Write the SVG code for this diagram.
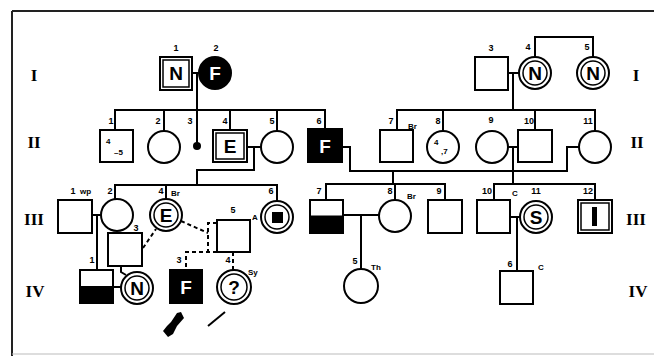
<svg xmlns="http://www.w3.org/2000/svg" width="654" height="356" viewBox="0 0 654 356">
<style>
.ln{fill:none;stroke:#000;stroke-width:2}
.ds{fill:none;stroke:#000;stroke-width:2;stroke-dasharray:4 3}
.nd{fill:#fff;stroke:#000;stroke-width:2}
.in{fill:none;stroke:#000;stroke-width:1.5}
.blk{fill:#000;stroke:#000;stroke-width:2}
.lb{font-family:"Liberation Sans",sans-serif;font-size:9px;font-weight:bold;text-anchor:middle}
.sm{font-family:"Liberation Sans",sans-serif;font-size:8px;font-weight:bold}
.big{font-family:"Liberation Sans",sans-serif;font-size:19px;font-weight:bold;text-anchor:middle}
.wt{fill:#fff}
.gen{font-family:"Liberation Serif",serif;font-size:17px;font-weight:bold;text-anchor:middle}
</style>
<rect width="654" height="356" fill="#fff"/>
<g id="frame">
<path d="M12,11 H654 M12,11 V356" fill="none" stroke="#222" stroke-width="2"/>
<path d="M12,354 H654" fill="none" stroke="#bbb" stroke-width="1"/>
</g>
<g id="generations">
<text class="gen" x="34" y="81">I</text>
<text class="gen" x="34" y="148">II</text>
<text class="gen" x="34" y="225">III</text>
<text class="gen" x="35" y="297">IV</text>
<text class="gen" x="636" y="81">I</text>
<text class="gen" x="637" y="148">II</text>
<text class="gen" x="636" y="225">III</text>
<text class="gen" x="638" y="297">IV</text>
</g>
<g id="connectors">
<path class="ln" d="M192,73 H200 M197,73 V146"/>
<path class="ln" d="M115,130 V110 H325 V129 M164,110 V131 M230,110 V130 M277,110 V131"/>
<path class="ln" d="M247,147 H261 M254,147 V170 H197 V185"/>
<path class="ln" d="M115,199 V185 H277 V201 M166,185 V199"/>
<path class="ln" d="M342,147 H350 V171 H567 V147 H579 M393,171 V184"/>
<path class="ln" d="M326,200 V184 H445 V200 M395,184 V200"/>
<path class="ln" d="M535,57 V37 H593 V57"/>
<path class="ln" d="M508,73 H519 M513,73 V110"/>
<path class="ln" d="M397,130 V110 H595 V131 M443,110 V131 M535,110 V130"/>
<path class="ln" d="M508,147 H518 M513,147 V184"/>
<path class="ln" d="M494,200 V184 H595 V200"/>
<path class="ln" d="M510,217 H520 M517,217 V271"/>
<path class="ln" d="M343,215 H379 M361,215 V269"/>
<path class="ln" d="M92,215 H101 M97,215 V270"/>
<path class="ln" d="M121,266 V272 L126,275 M113,287 H121"/>
<path class="ds" d="M143,248 L156,229"/>
<path class="ds" d="M181,221 L208,233 M217,223 H208 V252 M217,252 H186 V270 M233,252 V270"/>
</g>
<g id="I-1"><rect class="nd" x="160" y="57" width="32" height="33"/><rect class="in" x="163" y="60" width="26" height="27"/><text class="big" x="176" y="80">N</text><text class="lb" x="176" y="51">1</text></g>
<g id="I-2"><circle class="blk" cx="215" cy="73" r="16"/><text class="big wt" x="215" y="80">F</text><text class="lb" x="216" y="51">2</text></g>
<g id="I-3"><rect class="nd" x="475" y="57" width="33" height="33"/><text class="lb" x="491" y="51">3</text></g>
<g id="I-4"><circle class="nd" cx="535" cy="73" r="16"/><circle class="in" cx="535" cy="73" r="12"/><text class="big" x="535" y="80">N</text><text class="lb" x="528" y="50">4</text></g>
<g id="I-5"><circle class="nd" cx="593" cy="73" r="16"/><circle class="in" cx="593" cy="73" r="12"/><text class="big" x="593" y="80">N</text><text class="lb" x="587" y="50">5</text></g>
<g id="II-1"><rect class="nd" x="100" y="130" width="33" height="32"/><text class="sm" x="106" y="144">4</text><text class="sm" x="114" y="155">–5</text><text class="lb" x="111" y="124">1</text></g>
<g id="II-2"><circle class="nd" cx="164" cy="147" r="16"/><text class="lb" x="158" y="124">2</text></g>
<g id="II-3"><circle cx="197" cy="146" r="4" fill="#000"/><text class="lb" x="190" y="124">3</text></g>
<g id="II-4"><rect class="nd" x="213" y="130" width="34" height="32"/><rect class="in" x="216" y="133" width="28" height="26"/><text class="big" x="230" y="153">E</text><text class="lb" x="225" y="124">4</text></g>
<g id="II-5"><circle class="nd" cx="277" cy="147" r="16"/><text class="lb" x="272" y="124">5</text></g>
<g id="II-6"><rect class="blk" x="308" y="129" width="34" height="33"/><text class="big wt" x="325" y="153">F</text><text class="lb" x="319" y="124">6</text></g>
<g id="II-7"><rect class="nd" x="380" y="130" width="33" height="32"/><text class="lb" x="391" y="124">7</text><text class="sm" x="408" y="129">Br</text></g>
<g id="II-8"><circle class="nd" cx="443" cy="147" r="16"/><text class="sm" x="434" y="145">4</text><text class="sm" x="441" y="154">,7</text><text class="lb" x="438" y="124">8</text></g>
<g id="II-9"><circle class="nd" cx="492" cy="147" r="16"/><text class="lb" x="491" y="123">9</text></g>
<g id="II-10"><rect class="nd" x="518" y="130" width="34" height="32"/><text class="lb" x="529" y="124">10</text></g>
<g id="II-11"><circle class="nd" cx="595" cy="147" r="16"/><text class="lb" x="588" y="124">11</text></g>
<g id="III-1"><rect class="nd" x="58" y="200" width="34" height="33"/><text class="lb" x="73" y="194">1</text><text class="sm" x="80" y="194">wp</text></g>
<g id="III-2"><circle class="nd" cx="117" cy="215" r="16"/><text class="lb" x="110" y="194">2</text></g>
<g id="III-3"><rect class="nd" x="108" y="233" width="34" height="33"/><text class="lb" x="136" y="231">3</text></g>
<g id="III-4"><circle class="nd" cx="166" cy="215" r="16"/><circle class="in" cx="166" cy="215" r="12"/><text class="big" x="166" y="222">E</text><text class="lb" x="161" y="194">4</text><text class="sm" x="171" y="196">Br</text></g>
<g id="III-5"><rect class="nd" x="217" y="220" width="33" height="32"/><text class="lb" x="233" y="213">5</text><text class="sm" x="252" y="220">A</text></g>
<g id="III-6"><circle class="nd" cx="277" cy="217" r="16"/><circle class="in" cx="277" cy="217" r="12"/><rect x="272" y="212" width="11" height="11" fill="#000"/><text class="lb" x="271" y="194">6</text></g>
<g id="III-7"><rect class="nd" x="310" y="200" width="33" height="33"/><rect x="310" y="216.5" width="33" height="16.5" fill="#000" stroke="#000" stroke-width="2"/><text class="lb" x="319" y="194">7</text></g>
<g id="III-8"><circle class="nd" cx="395" cy="216" r="16"/><text class="lb" x="390" y="194">8</text><text class="sm" x="407" y="199">Br</text></g>
<g id="III-9"><rect class="nd" x="428" y="200" width="34" height="33"/><text class="lb" x="439" y="194">9</text></g>
<g id="III-10"><rect class="nd" x="477" y="200" width="33" height="33"/><text class="lb" x="487" y="194">10</text><text class="sm" x="512" y="196">C</text></g>
<g id="III-11"><circle class="nd" cx="536" cy="217" r="16"/><circle class="in" cx="536" cy="217" r="12"/><text class="big" x="536" y="224">S</text><text class="lb" x="536" y="194">11</text></g>
<g id="III-12"><rect class="nd" x="578" y="200" width="34" height="33"/><rect class="in" x="581" y="203" width="28" height="27"/><rect x="592" y="207" width="5" height="19" fill="#000"/><text class="lb" x="588" y="194">12</text></g>
<g id="IV-1"><rect class="nd" x="80" y="270" width="33" height="33"/><rect x="80" y="287" width="33" height="16" fill="#000" stroke="#000" stroke-width="2"/><text class="lb" x="92" y="263">1</text></g>
<g id="IV-2"><circle class="nd" cx="137" cy="288" r="16"/><circle class="in" cx="137" cy="288" r="12"/><text class="big" x="137" y="295">N</text></g>
<g id="IV-3"><rect class="blk" x="170" y="270" width="32" height="33"/><text class="big wt" x="186" y="294">F</text><text class="lb" x="179" y="263">3</text><polygon points="181,312 184,318 177,326 173,334 168,337 163,331 167,326 171,322 177,313" fill="#000"/></g>
<g id="IV-4"><circle class="nd" cx="234" cy="287" r="17"/><circle class="in" cx="234" cy="287" r="13"/><text class="big" x="234" y="294">?</text><text class="lb" x="228" y="263">4</text><text class="sm" x="248" y="275">Sy</text><path d="M208,326 L225,312" stroke="#000" stroke-width="2"/></g>
<g id="IV-5"><circle class="nd" cx="361" cy="286" r="17"/><text class="lb" x="355" y="264">5</text><text class="sm" x="371" y="270">Th</text></g>
<g id="IV-6"><rect class="nd" x="500" y="271" width="33" height="33"/><text class="lb" x="510" y="267">6</text><text class="sm" x="538" y="270">C</text></g>
</svg>
